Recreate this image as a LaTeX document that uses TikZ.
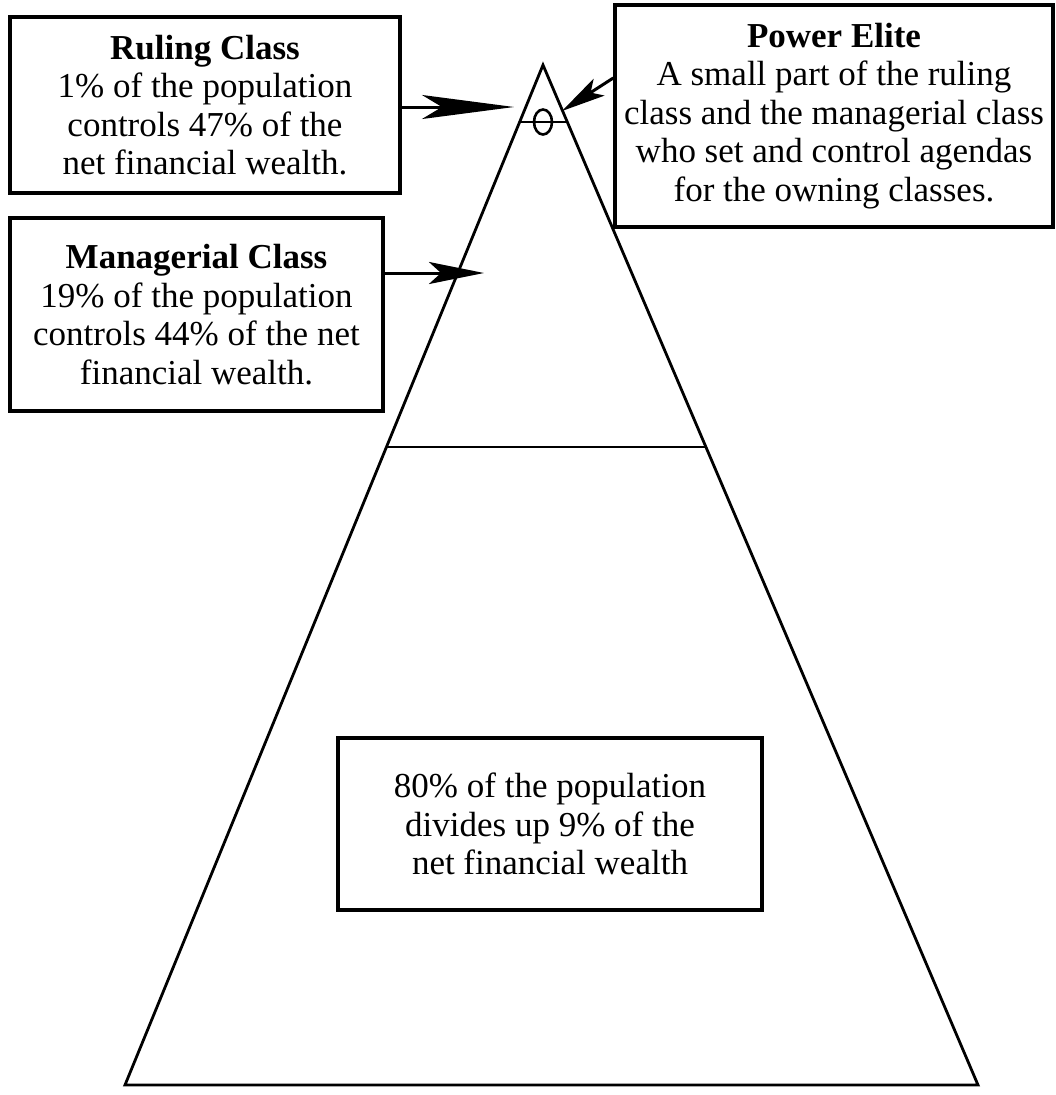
\documentclass[tikz,border=0pt]{standalone}
\usepackage{fontspec}
\setmainfont{Liberation Serif}
\usetikzlibrary{arrows.meta,calc,shapes.geometric}
\begin{document}
\begin{tikzpicture}[x=1pt,y=-1pt,
  box/.style={draw=black,line width=3.5pt,inner sep=0pt,align=center,
    font=\fontsize{35}{38.5}\selectfont},
  edge/.style={line width=2.8pt,line join=miter},
  conn/.style={line width=3pt}]
\useasboundingbox[fill=white] (0,0) rectangle (1056,1095);
% boxes
\node[box,minimum width=390pt,minimum height=176pt] (rc) at (205,105)
  {\textbf{Ruling Class}\\1\% of the population\\controls 47\% of the\\net financial wealth.};
\node[box,minimum width=438pt,minimum height=222pt] (pe) at (834,116)
  {\textbf{Power Elite}\\A small part of the ruling\\class and the managerial class\\who set and control agendas\\for the owning classes.};
\node[box,minimum width=373pt,minimum height=193pt] (mc) at (196.5,314.5)
  {\textbf{Managerial Class}\\19\% of the population\\controls 44\% of the net\\financial wealth.};
\node[box,minimum width=424pt,minimum height=172pt] (wb) at (550,824)
  {80\% of the population\\divides up 9\% of the\\net financial wealth};
% pyramid
\coordinate (apex) at (543,65);
\coordinate (bl) at (125,1085);
\coordinate (br) at (978,1085);
\draw[edge] (apex) -- (bl) -- (br) -- cycle;
\coordinate (ml) at ($(apex)!0.3745!(bl)$);
\coordinate (mr) at ($(apex)!0.3745!(br)$);
\draw[edge] (ml) -- (mr);
\coordinate (tl) at ($(apex)!0.0559!(bl)$);
\coordinate (tr) at ($(apex)!0.0559!(br)$);
\draw[edge] (tl) -- (tr);
\node[draw,line width=2.6pt,ellipse,minimum width=18pt,minimum height=25pt,inner sep=0pt] (pel) at (543,122) {};
% arrows
\coordinate (rtip) at (514,107);
\coordinate (mtip) at (484,273);
\coordinate (ptip) at (562,111);
\draw[conn,-{Stealth[length=92pt,width=24pt,inset=20pt]}] ([yshift=-2pt]rc.east) -- (rtip);
\draw[conn,-{Stealth[length=55pt,width=22pt,inset=12pt]}] ([yshift=41.5pt]mc.east) -- (mtip);
\draw[conn,-{Stealth[length=44pt,width=20pt,inset=10pt]}] ([yshift=38pt]pe.west) -- (ptip);
\end{tikzpicture}
\end{document}
